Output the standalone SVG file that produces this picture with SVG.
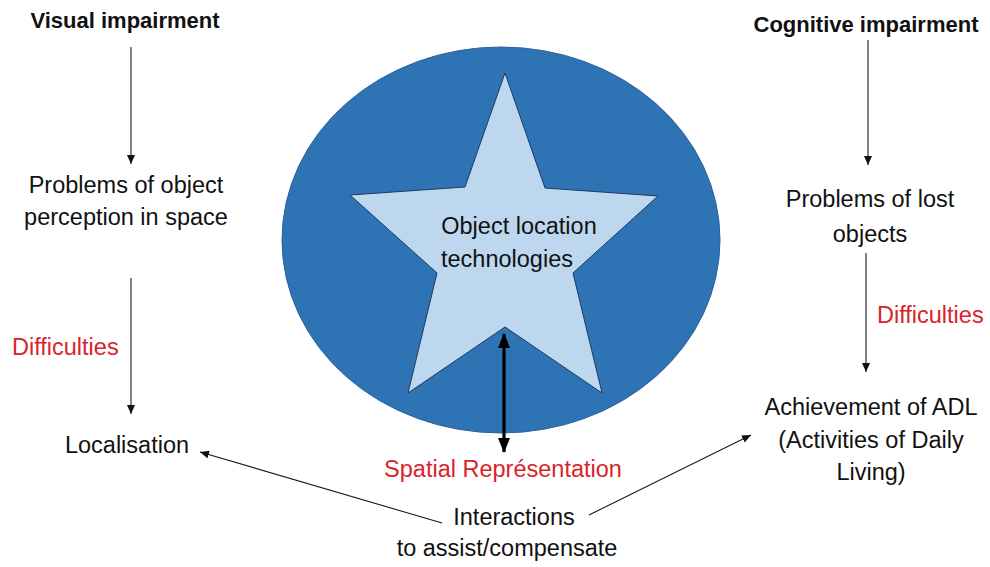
<svg xmlns="http://www.w3.org/2000/svg" width="990" height="567" viewBox="0 0 990 567">
<style>
text{font-family:"Liberation Sans",Arial,sans-serif;font-size:23.5px;fill:#111;text-anchor:middle}
.b{font-weight:bold;font-size:22px}
.red{fill:#D9232B}
.thin{stroke:#1a1a1a;stroke-width:1.1;fill:none;marker-end:url(#ah)}
</style>
<defs>
<marker id="ah" markerUnits="userSpaceOnUse" viewBox="0 0 9 8" refX="9" refY="4" markerWidth="9" markerHeight="8" orient="auto"><path d="M0,0L9,4L0,8z" fill="#111"/></marker>
<marker id="big" markerUnits="userSpaceOnUse" viewBox="0 0 15 12" refX="14" refY="6" markerWidth="15" markerHeight="12" orient="auto-start-reverse"><path d="M0,0L15,6L0,12z" fill="#000"/></marker>
</defs>
<rect width="990" height="567" fill="#fff"/>
<g id="center">
<ellipse cx="501" cy="240" rx="219" ry="193" fill="#2E74B5" stroke="#2A62A0" stroke-width="1"/>
<polygon points="505,73 545,188 658,196 573,273 602,393 505,327 408,393 437,273 350,195 465,187" fill="#BDD7EE" stroke="#1F3A60" stroke-width="1"/>
<text x="519" y="234">Object location</text>
<text x="507" y="267">technologies</text>
</g>
<g id="visual"><text class="b" x="125" y="28">Visual impairment</text></g>
<g id="perception"><text x="126" y="193">Problems of object</text><text x="126" y="225">perception in space</text></g>
<g id="diff-left"><text class="red" x="12" y="355" style="text-anchor:start">Difficulties</text></g>
<g id="localisation"><text x="127" y="453">Localisation</text></g>
<g id="cognitive"><text class="b" x="866" y="32">Cognitive impairment</text></g>
<g id="lost"><text x="870" y="207">Problems of lost</text><text x="870" y="242">objects</text></g>
<g id="diff-right"><text class="red" x="877" y="323" style="text-anchor:start">Difficulties</text></g>
<g id="adl"><text x="871" y="415">Achievement of ADL</text><text x="871" y="448">(Activities of Daily</text><text x="871" y="480">Living)</text></g>
<g id="spatial"><text class="red" x="503" y="477">Spatial Représentation</text></g>
<g id="interactions"><text x="514" y="525">Interactions</text><text x="507" y="556">to assist/compensate</text></g>
<g id="connectors">
<line class="thin" x1="131" y1="47" x2="131" y2="164"/>
<line class="thin" x1="131" y1="278" x2="131" y2="414"/>
<line class="thin" x1="868" y1="40" x2="868" y2="165"/>
<line class="thin" x1="866" y1="253" x2="866" y2="372"/>
<line class="thin" x1="442" y1="523" x2="200" y2="452"/>
<line class="thin" x1="589" y1="515" x2="751" y2="435"/>
<line x1="504" y1="334" x2="504" y2="452" stroke="#000" stroke-width="3.2" marker-start="url(#big)" marker-end="url(#big)"/>
</g>
</svg>
